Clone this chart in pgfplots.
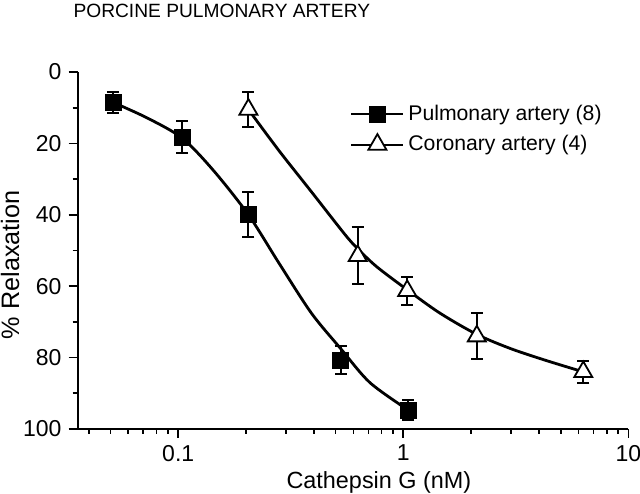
\documentclass[border=0pt]{standalone}
\usepackage{fontspec}
\setmainfont{Liberation Sans}
\usepackage{pgfplots}
\pgfplotsset{compat=1.18}

\begin{document}
\begin{tikzpicture}
\begin{axis}[
    name=ax,
    scale only axis,
    width=275.5pt, height=178.5pt,
    xmode=log,
    xmin=0.0357, xmax=10,
    ymin=0, ymax=100,
    y dir=reverse,
    axis x line*=bottom,
    axis y line*=left,
    axis line style={line width=1pt},
    tick style={line width=0.9pt, black},
    tick align=outside,
    major tick length=4.5pt,
    minor tick length=2.5pt,
    xtick={0.1,1,10},
    xticklabels={0.1,1,10},
    minor xtick={0.04,0.05,0.06,0.07,0.08,0.09,0.2,0.3,0.4,0.5,0.6,0.7,0.8,0.9,2,3,4,5,6,7,8,9},
    ytick={0,20,40,60,80,100},
    minor ytick={10,30,50,70,90},
    /pgf/number format/assume math mode=true,
    tick label style={font=\fontsize{11.5}{13}\selectfont},
    xlabel={Cathepsin G (nM)},
    ylabel={\% Relaxation},
    xlabel style={font=\fontsize{11.7}{13}\selectfont,
                  at={(axis description cs:0.547,-0.151)}, anchor=center},
    ylabel style={font=\fontsize{12.6}{14}\selectfont,
                  at={(axis description cs:-0.1225,0.46)}, anchor=center},
    legend style={at={(axis description cs:0.4946,0.92)}, anchor=north west,
                  draw=none, fill=none, inner sep=0pt,
                  font=\fontsize{10.6}{12.5}\selectfont, row sep=2pt},
    legend cell align=left,
    legend image code/.code={
        \draw[mark repeat=2,mark phase=2,#1] plot coordinates {(0pt,0pt) (13pt,0pt) (26pt,0pt)};
    },
    clip=false,
]
% legend entries
\addlegendimage{black, line width=1pt, mark=square*, mark size=4pt, mark options={solid, line width=0.6pt}}
\addlegendentry{Pulmonary artery (8)}
\addlegendimage{black, line width=1pt, mark=triangle*, mark size=5.2pt, mark options={solid, fill=white, line width=0.9pt}}
\addlegendentry{Coronary artery (4)}

% fitted curve, pulmonary
\addplot[black, line width=1.4pt, smooth, forget plot] coordinates {
    (0.0513,8.5)(0.073,12.9)(0.104,18.5)(0.143,27.5)(0.205,40)
    (0.28,53.5)(0.39,67.5)(0.527,77.5)(0.71,87)(1.04,94.5)
};
% fitted curve, coronary
\addplot[black, line width=1.4pt, smooth, forget plot] coordinates {
    (0.205,10.5)(0.28,22)(0.39,33.5)(0.55,45.5)(0.627,49.5)(0.76,54.5)
    (1.04,61)(1.45,67.5)(2.12,73.5)(3.0,77.5)(4.3,80.8)(6.3,84)
};

% pulmonary artery, mean +- SEM
\addplot[black, only marks, mark=square*, mark size=4pt, forget plot,
    error bars/.cd, y dir=both, y explicit,
    error bar style={line width=1pt},
    error mark options={rotate=90, mark size=3pt, line width=1pt}]
    coordinates {
    (0.0513,8.5) +- (0,3)
    (0.104,18.2) +- (0,4.5)
    (0.205,40) +- (0,6.3)
    (0.527,80.7) +- (0,4)
    (1.05,94.7) +- (0,2.8)
};
% coronary artery, mean +- SEM
\addplot[black, only marks, mark=triangle*, mark size=5.2pt, forget plot,
    mark options={fill=white, line width=0.9pt},
    error bars/.cd, y dir=both, y explicit,
    error bar style={line width=1pt},
    error mark options={rotate=90, mark size=3pt, line width=1pt}]
    coordinates {
    (0.205,10.5) +- (0,5)
    (0.627,51.5) +- (0,8)
    (1.04,61.3) +- (0,4)
    (2.12,74) +- (0,6.5)
    (6.3,84) +- (0,3)
};

\node[anchor=north west, inner sep=0pt, font=\fontsize{9.6}{11}\selectfont]
    at (axis description cs:-0.008,1.19) {PORCINE PULMONARY ARTERY};

\coordinate (bl) at (axis description cs:-0.1407,-0.182);
\coordinate (tr) at (axis description cs:1.0209,1.2017);
\end{axis}
\pgfresetboundingbox
\path[use as bounding box] (bl) rectangle (tr);
\end{tikzpicture}
\end{document}
